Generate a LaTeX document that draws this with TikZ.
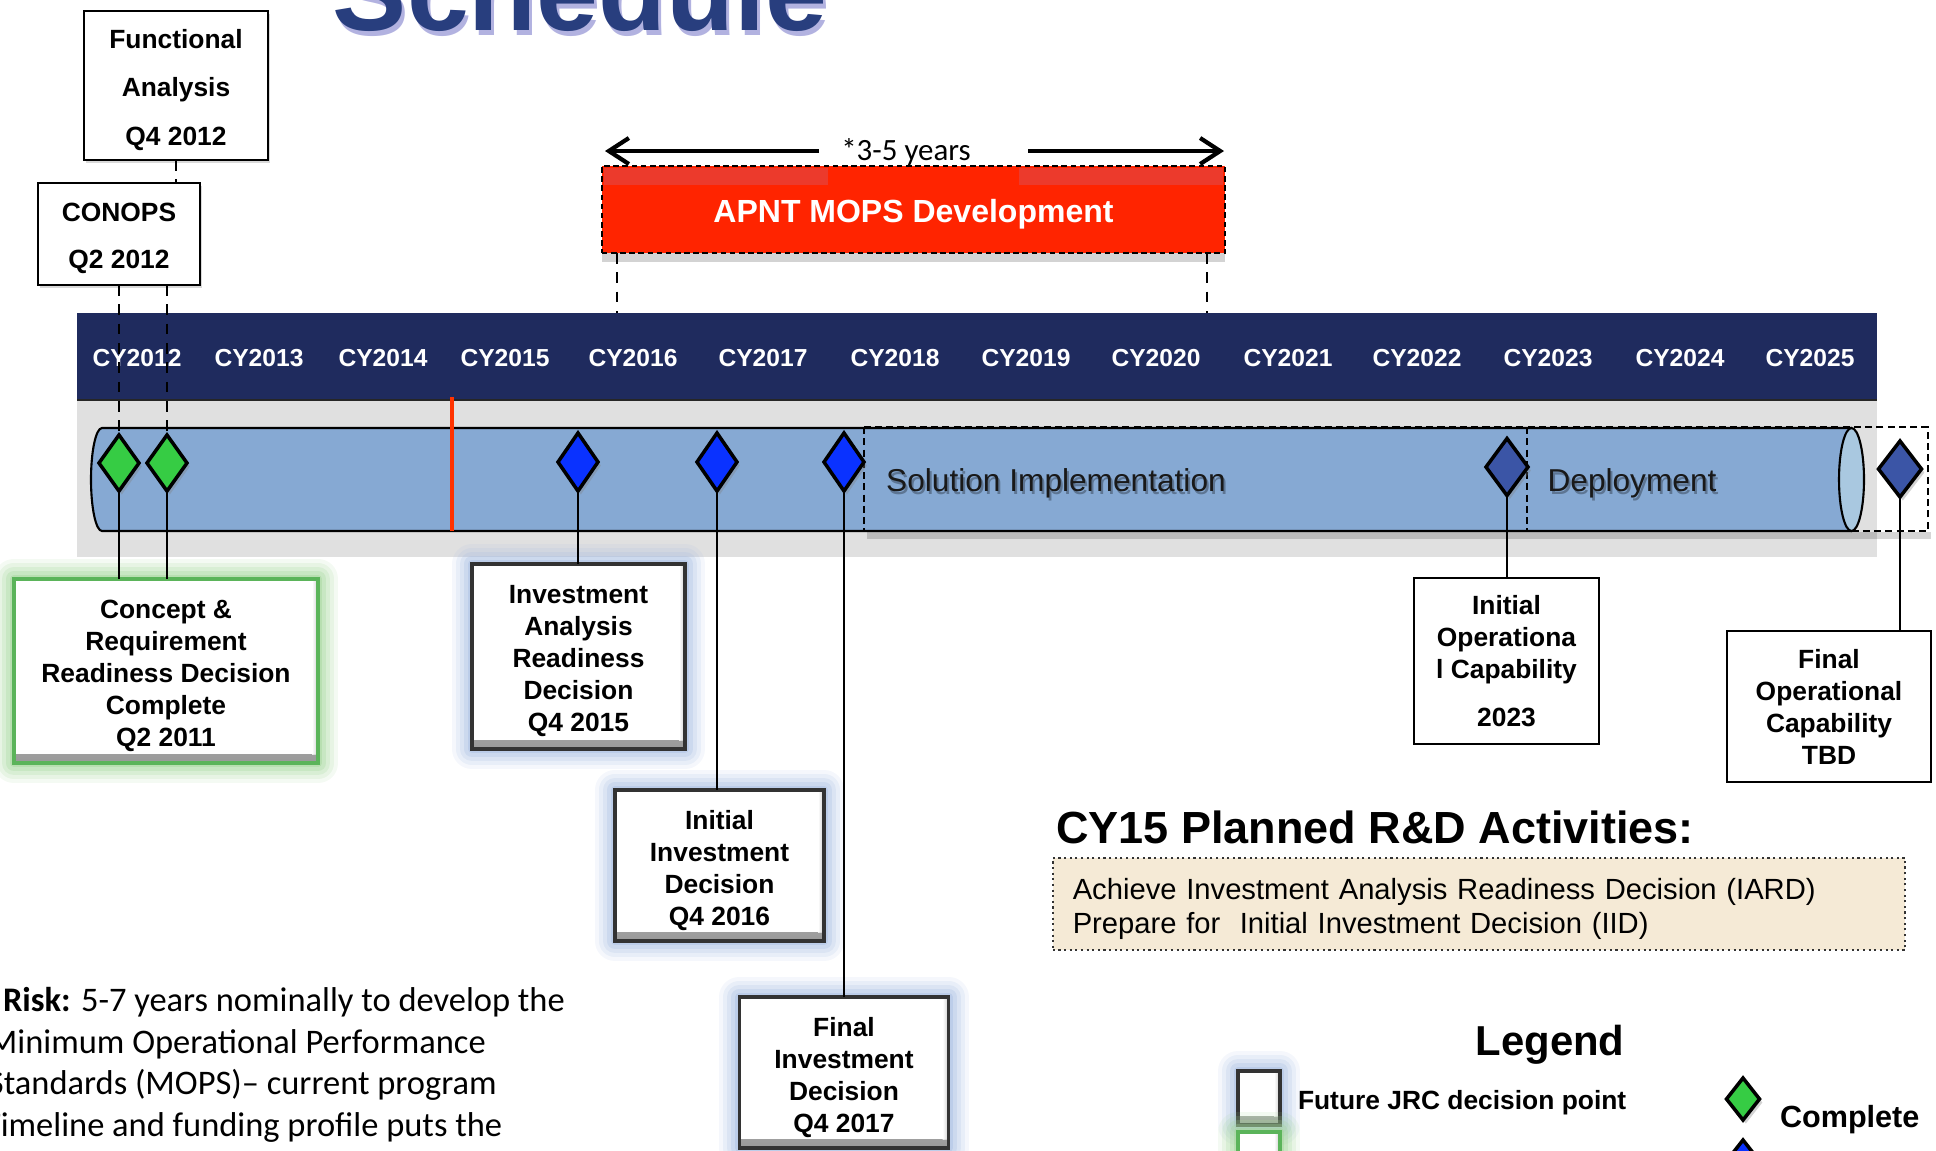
\documentclass[tikz,border=0pt]{standalone}
\usepackage{fontspec}
\setmainfont{Liberation Sans}
\newfontfamily\calibrifont{Carlito}
\usetikzlibrary{shapes.geometric,arrows.meta,shadows}
\newcommand\setfs[2]{\fontsize{#1}{#2}\selectfont}
% raises the first line of a box so its text block sits a little lower
\newcommand\toppad[1]{\rule{0pt}{#1}}

\definecolor{barnavy}{HTML}{1F2B5E}
\definecolor{stripgray}{HTML}{E0E0E0}
\definecolor{cylblue}{HTML}{86A9D3}
\definecolor{capblue}{HTML}{A9C8E0}
\definecolor{mopsred}{HTML}{FF2400}
\definecolor{mopshi}{HTML}{EC3A2C}
\definecolor{markred}{HTML}{FF3300}
\definecolor{donegreen}{HTML}{36CC44}
\definecolor{decblue}{HTML}{0A32FF}
\definecolor{slateblue}{HTML}{3B55A6}
\definecolor{titleblue}{HTML}{283E7E}
\definecolor{tanfill}{HTML}{F5EAD6}
\definecolor{glowblue}{HTML}{A9BFE3}
\definecolor{glowgreen}{HTML}{A3D69A}
\definecolor{edgegreen}{HTML}{5BB45A}

\begin{document}
\begin{tikzpicture}[x=0.01cm, y=-0.01cm,
  every node/.style={inner sep=0pt, outer sep=0pt},
  yearlbl/.style={text=white, font=\bfseries\setfs{7}{8}},
  plainbox/.style={draw=black, line width=0.6pt, fill=white, align=center,
                   font=\bfseries\setfs{7.5}{9.1}},
  bevel/.style={path picture={
      \shade[top color=white, bottom color=black!40]
        ([yshift=0.09cm]path picture bounding box.south west) rectangle (path picture bounding box.south east);
      \shade[left color=white, right color=black!25, opacity=0.8]
        ([xshift=-0.06cm]path picture bounding box.north east) rectangle ([yshift=0.09cm]path picture bounding box.south east);}},
  glow/.style={preaction={draw=#1, line width=0.40cm, opacity=0.12, line join=round},
               preaction={draw=#1, line width=0.32cm, opacity=0.16, line join=round},
               preaction={draw=#1, line width=0.24cm, opacity=0.22, line join=round},
               preaction={draw=#1, line width=0.16cm, opacity=0.3, line join=round},
               preaction={draw=#1, line width=0.08cm, opacity=0.45, line join=round}},
  decbox/.style={plainbox, draw=black!80, line width=0.9pt, bevel, glow=glowblue},
  donebox/.style={plainbox, draw=edgegreen, line width=1.1pt, bevel, glow=glowgreen},
  dia/.style={diamond, draw=black, line width=1pt, minimum width=0.40cm, minimum height=0.57cm,
              drop shadow={shadow xshift=0.8pt, shadow yshift=-1pt, opacity=0.35}},
  conn/.style={draw=black, line width=0.45pt},
  dashconn/.style={draw=black, line width=0.45pt, dash pattern=on 3pt off 2.5pt},
  span/.style={draw=black, line width=1.2pt, -{Straight Barb[length=0.2cm, width=0.26cm]}},
  phase/.style={font=\setfs{9}{11}, text=black!90},
  phaseshade/.style={font=\setfs{9}{11}, text=black, opacity=0.3},
  risktxt/.style={anchor=base west, font=\calibrifont\setfs{9.8}{11.8}},
]
\useasboundingbox (0,0) rectangle (1936,1150);
\clip (0,0) rectangle (1936,1150);

% ---- heading ----
\node[anchor=base, font=\bfseries\setfs{31.6}{36}, text=black!40!blue, opacity=0.3] (titleshade) at (583,35) {Schedule};
\node[anchor=base, font=\bfseries\setfs{31.6}{36}, text=titleblue] (title) at (580,30) {Schedule};

% ---- early milestones ----
\node[plainbox, minimum width=1.84cm, minimum height=1.49cm, font=\bfseries\setfs{7.5}{13.8},
      drop shadow={shadow xshift=0.6pt, shadow yshift=-0.8pt, opacity=0.3}] (func) at (176,85.5)
  {\toppad{7.8pt}Functional\\Analysis\\Q4 2012};
\node[plainbox, minimum width=1.62cm, minimum height=1.02cm, font=\bfseries\setfs{7.5}{13.4},
      drop shadow={shadow xshift=0.6pt, shadow yshift=-0.8pt, opacity=0.3}] (conops) at (119,234)
  {\toppad{7.8pt}CONOPS\\Q2 2012};

% ---- MOPS development block ----
\node[fill=mopsred, draw=black, line width=0.7pt, dash pattern=on 1.6pt off 1pt,
      minimum width=6.23cm, minimum height=0.87cm, text=white, font=\bfseries\setfs{9.1}{11},
      drop shadow={shadow xshift=0pt, shadow yshift=-2.5pt, opacity=0.35}] (mops) at (913.5,209.5)
  {\toppad{9.4pt}APNT MOPS Development};
\fill[mopshi] (604,168) rectangle (828,185);
\fill[mopshi] (1019,168) rectangle (1223,185);

\node[anchor=base, font=\calibrifont\setfs{8.8}{10}] (yrs) at (906,160) {*3-5 years};
\coordinate (spanL0) at (819,151);
\coordinate (spanL1) at (605,151);
\coordinate (spanR0) at (1028,151);
\coordinate (spanR1) at (1224,151);
\draw[span] (spanL0) -- (spanL1);
\draw[span] (spanR0) -- (spanR1);

% ---- timeline band ----
\fill[stripgray] (77,401) rectangle (1877,557);
\fill[barnavy] (77,313) rectangle (1877,401);
\draw[black!85, line width=0.8pt] (77,400) -- (1877,400);
\foreach \yr/\xx in {2012/137,2013/259,2014/383,2015/505,2016/633,2017/763,2018/895,
                     2019/1026,2020/1156,2021/1288,2022/1417,2023/1548,2024/1680,2025/1810}
  \node[yearlbl] (cy\yr) at (\xx,358) {CY\yr};

\coordinate (mopsLdrop) at (617,313);
\coordinate (mopsRdrop) at (1207,313);
\draw[dashconn] (mopsLdrop |- mops.south) -- (mopsLdrop);
\draw[dashconn] (mopsRdrop |- mops.south) -- (mopsRdrop);

% program cylinder
\path[fill=cylblue, draw=black, line width=0.6pt]
  (102,428) -- (1851,428) -- (1851,531) -- (102,531)
  arc[start angle=90, end angle=270, x radius=11, y radius=51.5] -- cycle;
\path[fill=capblue, draw=black, line width=0.6pt] (1851.5,479.5) ellipse[x radius=12.5, y radius=51.5];

% implementation / deployment phases
\fill[black, opacity=0.16] (867,532) rectangle (1931,539);
\draw[black, line width=0.6pt, dash pattern=on 2pt off 1.2pt] (864,427) rectangle (1928,531);
\draw[black, line width=0.6pt, dash pattern=on 2pt off 1.2pt] (1527,427) -- (1527,531);
\node[phaseshade] (solshade) at (1058,486) {Solution Implementation};
\node[phase] (sol) at (1056,483) {Solution Implementation};
\node[phaseshade] (depshade) at (1634,486) {Deployment};
\node[phase] (dep) at (1632,483) {Deployment};

% status date marker
\draw[markred, line width=1.15pt] (452,397) -- (452,531);

% ---- milestone diamonds ----
\node[dia, fill=donegreen, minimum height=0.56cm] (d1) at (119,463) {};
\node[dia, fill=donegreen, minimum height=0.56cm] (d2) at (167,463) {};
\node[dia, fill=decblue, minimum height=0.58cm] (d3) at (578,462) {};
\node[dia, fill=decblue, minimum height=0.58cm] (d4) at (717,462) {};
\node[dia, fill=decblue, minimum height=0.58cm] (d5) at (844,462) {};
\node[dia, fill=slateblue, minimum width=0.42cm] (d6) at (1507,467) {};
\node[dia, fill=slateblue, minimum width=0.43cm, minimum height=0.56cm] (d7) at (1900,469) {};

% ---- decision boxes ----
\node[donebox, minimum width=3.04cm, minimum height=1.84cm] (concept) at (166,671)
  {\toppad{7.8pt}Concept \&\\Requirement\\Readiness Decision\\Complete\\Q2 2011};
\node[decbox, minimum width=2.13cm, minimum height=1.85cm] (iard) at (578.5,656.5)
  {\toppad{7.8pt}Investment\\Analysis\\Readiness\\Decision\\Q4 2015};
\node[decbox, minimum width=2.09cm, minimum height=1.51cm] (iid) at (719.5,865.5)
  {\toppad{8.2pt}Initial\\Investment\\Decision\\Q4 2016};
\node[decbox, minimum width=2.09cm, minimum height=1.51cm] (fid) at (844,1072.5)
  {\toppad{8.2pt}Final\\Investment\\Decision\\Q4 2017};
\node[plainbox, minimum width=1.85cm, minimum height=1.66cm] (ioc) at (1506.5,661)
  {Initial\\Operationa\\l Capability\\[4.5pt]2023};
\node[plainbox, minimum width=2.04cm, minimum height=1.51cm] (foc) at (1829,706.5)
  {Final\\Operational\\Capability\\TBD};

% ---- connectors ----
\draw[dashconn] (func.south) -- (func.south |- conops.north);
\draw[dashconn] (conops.south -| d1.north) -- (d1.north);
\draw[dashconn] (conops.south -| d2.north) -- (d2.north);
\draw[conn] (d1.south) -- (d1.south |- concept.north);
\draw[conn] (d2.south) -- (d2.south |- concept.north);
\draw[conn] (d3.south) -- (d3.south |- iard.north);
\draw[conn] (d4.south) -- (d4.south |- iid.north);
\draw[conn] (d5.south) -- (d5.south |- fid.north);
\draw[conn] (d6.south) -- (d6.south |- ioc.north);
\draw[conn] (d7.south) -- (d7.south |- foc.north);

% ---- planned activities ----
\node[anchor=base west, font=\bfseries\setfs{12.8}{15}] (plantitle) at (1056,843) {CY15 Planned R\&D Activities:};
\node[fill=tanfill, draw=black!80, line width=0.6pt, densely dotted,
      minimum width=8.52cm, minimum height=0.92cm, text width=8.12cm, inner xsep=0.2cm,
      align=left, font=\setfs{8.3}{9.7}] (plan) at (1479,904)
  {\toppad{8.6pt}Achieve Investment Analysis Readiness Decision (IARD)\\Prepare for\ \ Initial Investment Decision (IID)};

% ---- risk note ----
\node[risktxt] (risk1) at (3,1011) {\textbf{Risk:} 5-7 years nominally to develop the};
\node[risktxt] (risk2) at (-12,1053) {Minimum Operational Performance};
\node[risktxt] (risk3) at (-12,1094) {Standards (MOPS)– current program};
\node[risktxt] (risk4) at (-16,1136) {Timeline and funding profile puts the};

% ---- legend ----
\node[anchor=base, font=\bfseries\setfs{11.9}{14}] (legtitle) at (1550,1055) {Legend};
\node[plainbox, draw=black!80, line width=0.9pt, bevel, glow=glowblue, minimum width=0.42cm, minimum height=0.54cm] (legfuture) at (1259,1098) {};
\node[plainbox, draw=edgegreen, line width=1.1pt, bevel, glow=glowgreen, minimum width=0.42cm, minimum height=0.54cm] (legdone) at (1259,1159) {};
\node[anchor=west, font=\bfseries\setfs{7.5}{9}] (legfuturetxt) at (1298,1103) {Future JRC decision point};
\node[dia, fill=donegreen, minimum width=0.33cm, minimum height=0.42cm] (legdia) at (1743,1099) {};
\node[anchor=west, font=\bfseries\setfs{8.7}{10}] (legdonetxt) at (1780,1120) {Complete};
\node[dia, fill=decblue, minimum width=0.33cm, minimum height=0.42cm] (legdia2) at (1743,1161) {};
\end{tikzpicture}
\end{document}
